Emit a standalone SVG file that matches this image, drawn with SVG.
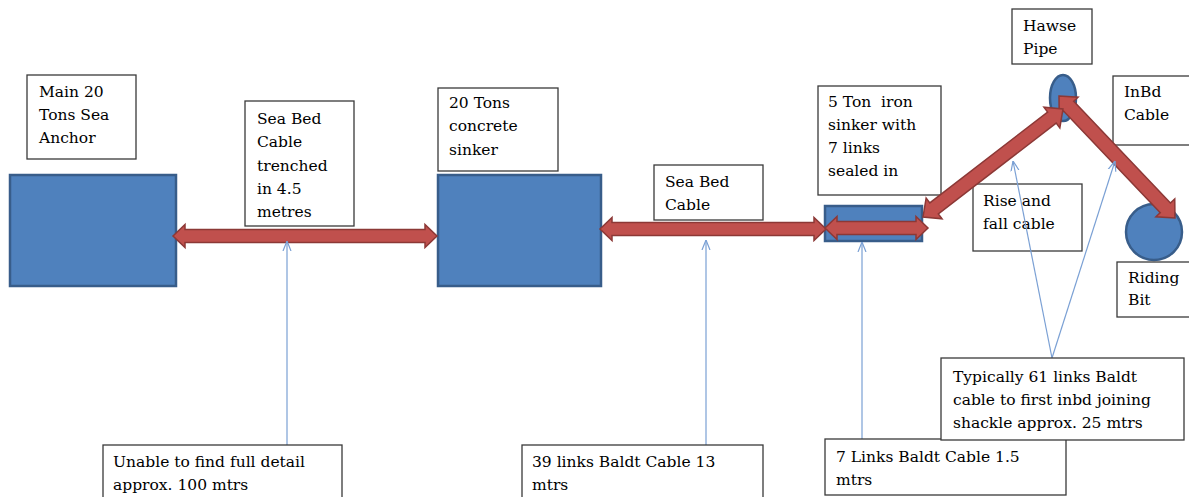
<svg xmlns="http://www.w3.org/2000/svg" width="1189" height="497" viewBox="0 0 1189 497">
<style>
.box{fill:#fff;stroke:#3a3a3a;stroke-width:1.3}
.blk{fill:#4F81BD;stroke:#385D8A;stroke-width:2.5}
.arr{fill:#C0504D;stroke:#8C3836;stroke-width:1.5;stroke-linejoin:miter}
.t{font-family:'DejaVu Serif',serif;font-size:15.5px;fill:#000;white-space:pre}
.call{stroke:#7AA0D4;stroke-width:1.2;fill:none;marker-end:url(#v)}
</style>
<defs>
<marker id="v" viewBox="0 0 10 10" refX="10" refY="5" markerWidth="10" markerHeight="10" markerUnits="userSpaceOnUse" orient="auto">
<path d="M0,1 L10,5 L0,9" fill="none" stroke="#7AA0D4" stroke-width="1.2"/>
</marker>
</defs>
<rect width="1189" height="497" fill="#fff"/>

<g id="anchor">
<rect class="blk" x="10" y="175" width="166" height="111"/>
<rect class="box" x="27" y="75" width="109" height="84"/>
<text class="t"><tspan x="39" y="97">Main 20</tspan><tspan x="39" y="120">Tons Sea</tspan><tspan x="39" y="143">Anchor</tspan></text>
</g>

<g id="seabed-trenched">
<rect class="box" x="245" y="101" width="109" height="125"/>
<text class="t"><tspan x="257" y="124">Sea Bed</tspan><tspan x="257" y="147">Cable</tspan><tspan x="257" y="171">trenched</tspan><tspan x="257" y="194">in 4.5</tspan><tspan x="257" y="217">metres</tspan></text>
</g>

<g id="concrete-sinker">
<rect class="blk" x="438" y="175" width="163" height="111"/>
<rect class="box" x="438" y="88" width="120" height="83"/>
<text class="t"><tspan x="449" y="108">20 Tons</tspan><tspan x="449" y="131">concrete</tspan><tspan x="449" y="155">sinker</tspan></text>
</g>

<g id="seabed-cable">
<rect class="box" x="654" y="165" width="109" height="55"/>
<text class="t"><tspan x="665" y="187">Sea Bed</tspan><tspan x="665" y="210">Cable</tspan></text>
</g>

<g id="iron-sinker">
<rect class="box" x="818" y="86" width="123" height="109"/>
<text class="t"><tspan x="828" y="107">5 Ton  iron</tspan><tspan x="828" y="130">sinker with</tspan><tspan x="828" y="153">7 links</tspan><tspan x="828" y="176">sealed in</tspan></text>
<rect class="blk" x="825" y="206" width="97" height="35"/>
</g>

<g id="hawse-pipe">
<rect class="box" x="1012" y="9" width="80" height="55"/>
<text class="t"><tspan x="1023" y="31">Hawse</tspan><tspan x="1023" y="54">Pipe</tspan></text>
<ellipse class="blk" cx="1063" cy="98" rx="13" ry="23"/>
</g>

<g id="inbd-cable">
<rect class="box" x="1113" y="76" width="80" height="69"/>
<text class="t"><tspan x="1124" y="97">InBd</tspan><tspan x="1124" y="120">Cable</tspan></text>
</g>

<g id="rise-fall">
<rect class="box" x="973" y="184" width="109" height="67"/>
<text class="t"><tspan x="983" y="206">Rise and</tspan><tspan x="983" y="229">fall cable</tspan></text>
</g>

<g id="riding-bit">
<circle class="blk" cx="1154" cy="232" r="28"/>
<rect class="box" x="1117" y="262" width="76" height="55"/>
<text class="t"><tspan x="1128" y="283">Riding</tspan><tspan x="1128" y="305">Bit</tspan></text>
</g>

<g id="connectors">
<polygon class="arr" points="173,236 185,224.5 185,229.5 425,229.5 425,224.5 437,236 425,247.5 425,242.5 185,242.5 185,247.5"/>
<polygon class="arr" points="600,229 612,217.5 612,222.5 814,222.5 814,217.5 826,229 814,240.5 814,235.5 612,235.5 612,240.5"/>
<polygon class="arr" points="825,228 837,216.5 837,221.5 916,221.5 916,216.5 928,228 916,239.5 916,234.5 837,234.5 837,239.5"/>
<g transform="translate(1059,96) rotate(46.44)">
<polygon class="arr" points="0,0 14,-13 14,-7 154.3,-7 154.3,-13 168.3,0 154.3,13 154.3,7 14,7 14,13"/>
</g>
<g transform="translate(923,217) rotate(-37.65)">
<polygon class="arr" points="0,0 14,-13 14,-7 162.8,-7 162.8,-13 176.8,0 162.8,13 162.8,7 14,7 14,13"/>
</g>
<line class="call" x1="287" y1="445" x2="287" y2="241"/>
<line class="call" x1="706" y1="445" x2="706" y2="240"/>
<line class="call" x1="862" y1="439" x2="862" y2="242"/>
<line class="call" x1="1052" y1="358" x2="1013" y2="161"/>
<line class="call" x1="1052" y1="358" x2="1115" y2="161"/>
</g>

<g id="note-unable">
<rect class="box" x="103" y="445" width="239" height="60"/>
<text class="t"><tspan x="113" y="467">Unable to find full detail</tspan><tspan x="113" y="490">approx. 100 mtrs</tspan></text>
</g>

<g id="note-39">
<rect class="box" x="522" y="445" width="241" height="60"/>
<text class="t"><tspan x="532" y="467">39 links Baldt Cable 13</tspan><tspan x="532" y="490">mtrs</tspan></text>
</g>

<g id="note-7">
<rect class="box" x="825" y="439" width="241" height="56"/>
<text class="t"><tspan x="836" y="462">7 Links Baldt Cable 1.5</tspan><tspan x="836" y="485">mtrs</tspan></text>
</g>

<g id="note-61">
<rect class="box" x="941" y="358" width="243" height="82"/>
<text class="t"><tspan x="953" y="382">Typically 61 links Baldt</tspan><tspan x="953" y="405">cable to first inbd joining</tspan><tspan x="953" y="428">shackle approx. 25 mtrs</tspan></text>
</g>
</svg>
